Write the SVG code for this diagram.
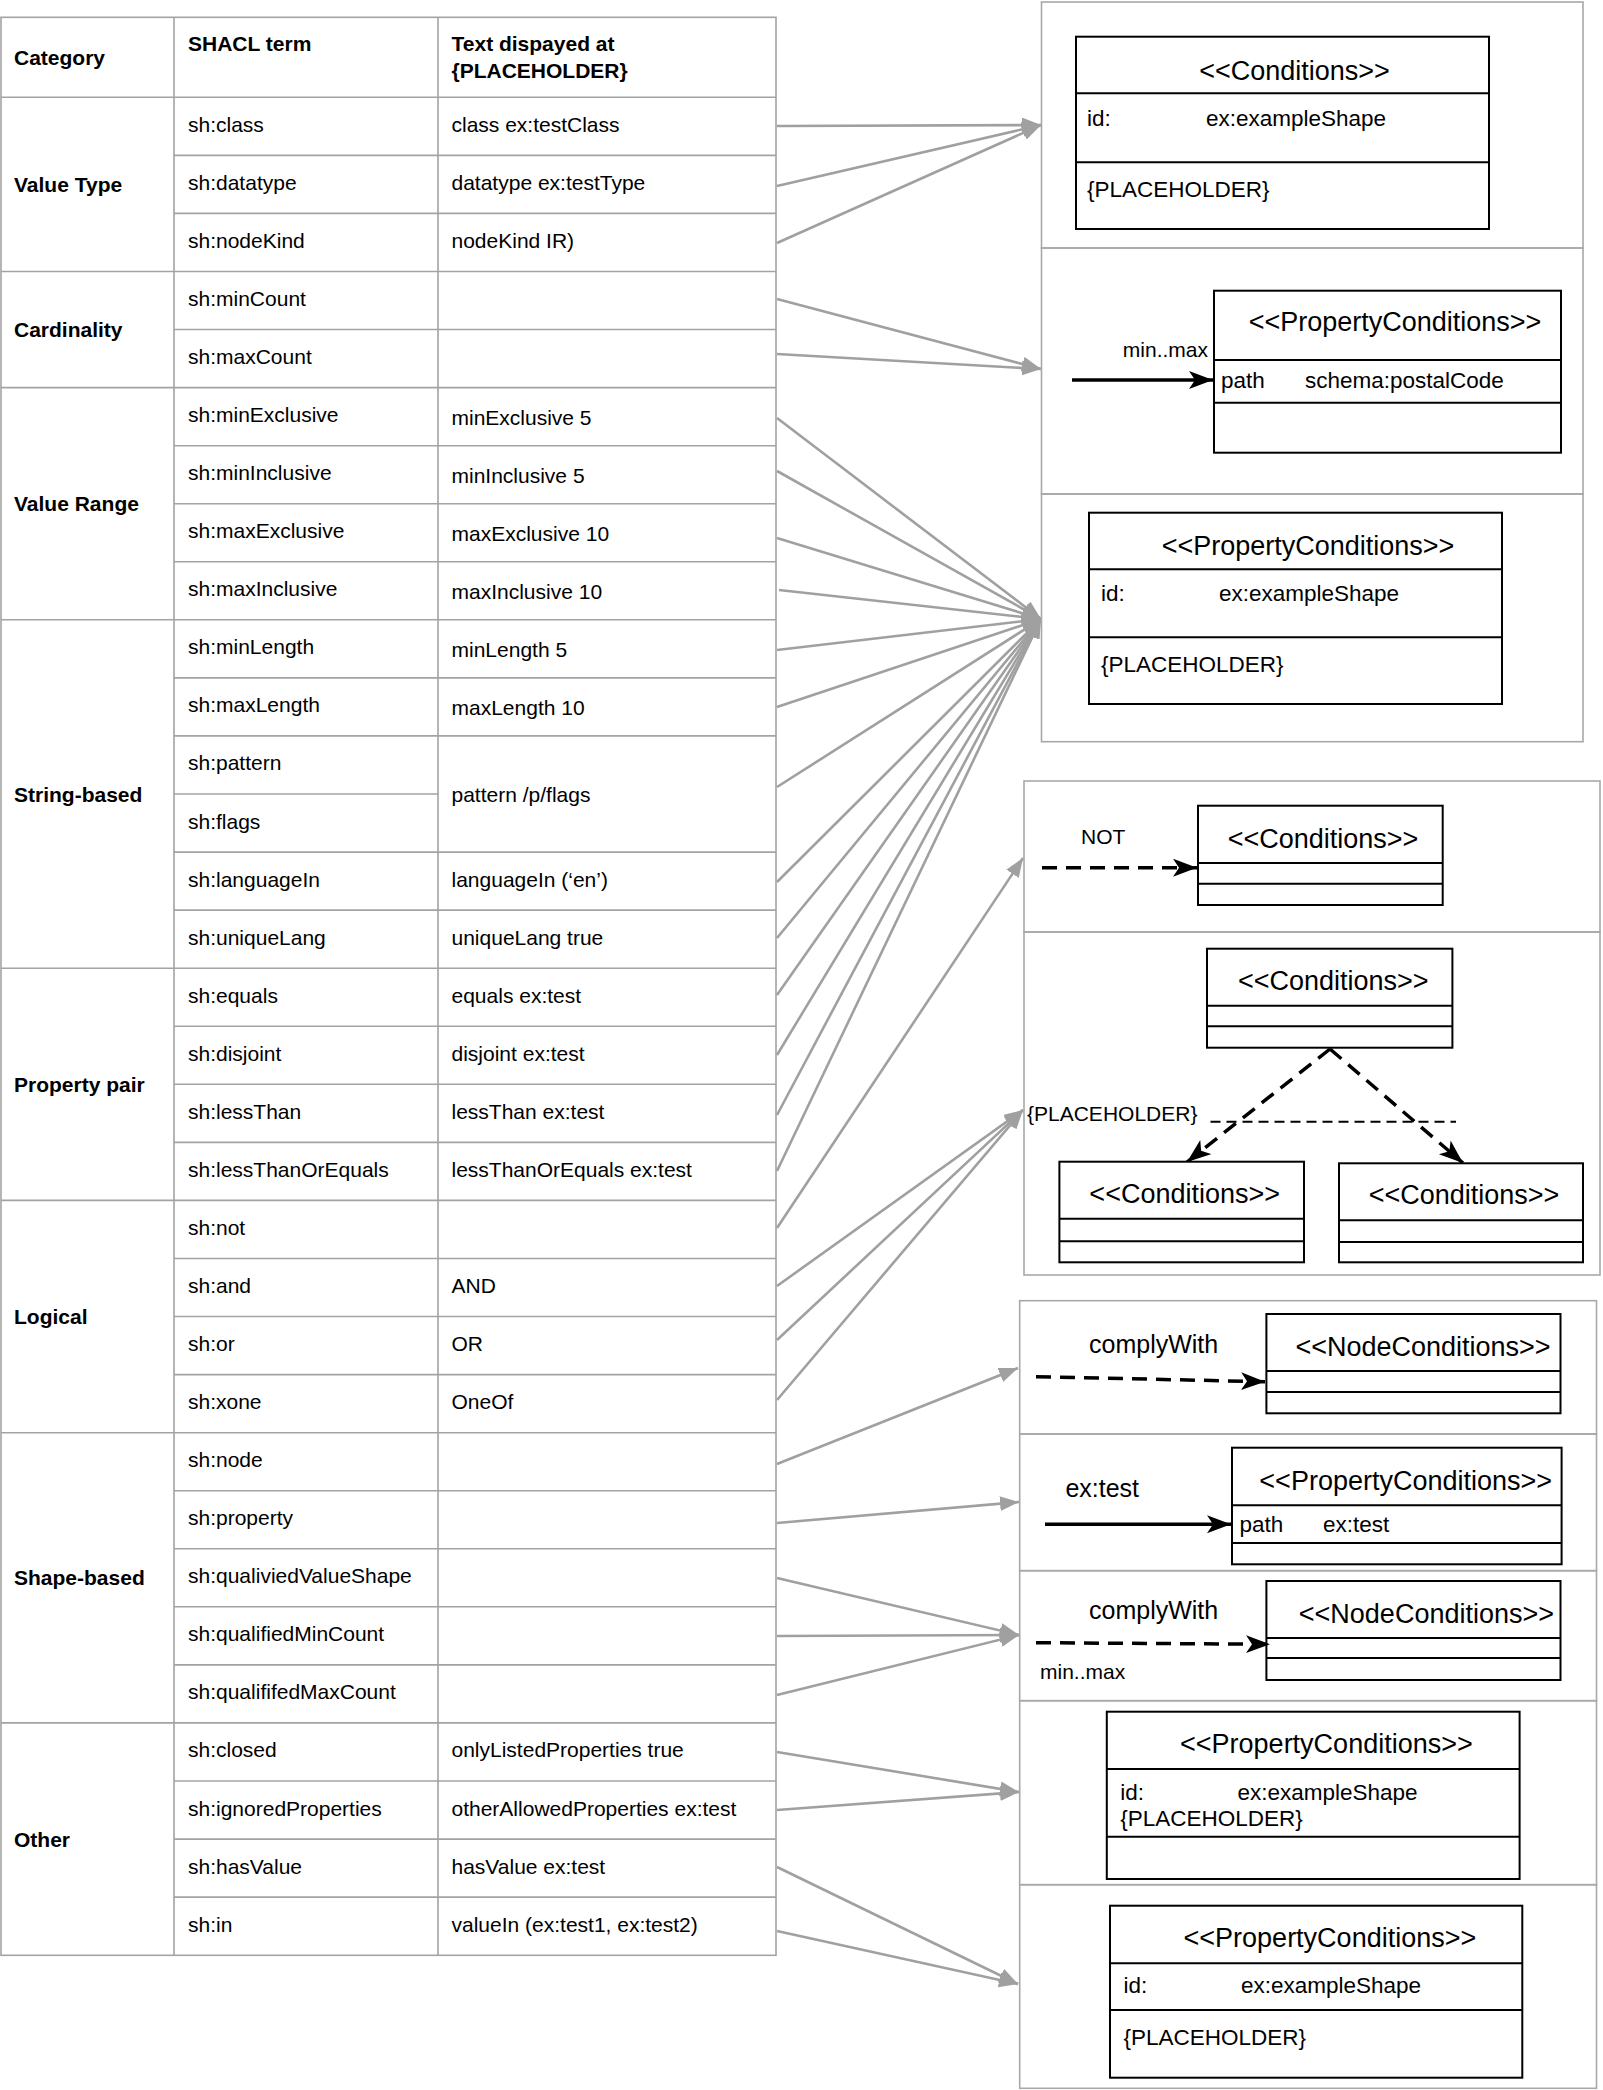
<svg xmlns="http://www.w3.org/2000/svg" width="1603" height="2090" viewBox="0 0 1603 2090">
<style>
text{font-family:"Liberation Sans",Arial,sans-serif;fill:#000}
.t{font-size:21px}
.b{font-size:21px;font-weight:bold}
.grid{stroke:#a3a3a3;stroke-width:1.6;fill:none}
.outer{stroke:#a8a8a8;stroke-width:1.6;fill:none}
.uml{stroke:#000;stroke-width:2;fill:#fff}
.ttl{font-size:27px;text-anchor:middle}
.att{font-size:22.5px}
.lbl{font-size:21px}
.big{font-size:25px}
.conn line{stroke:#a0a0a0;stroke-width:2.6;marker-end:url(#ga)}
.blk{stroke:#000;stroke-width:3.5;fill:none}
.dash{stroke-dasharray:15 9}
</style>
<defs>
<marker id="ga" markerUnits="userSpaceOnUse" markerWidth="20" markerHeight="16" refX="19" refY="7.5" orient="auto">
<path d="M0,0 L19,7.5 L0,15 z" fill="#a0a0a0"/>
</marker>
<marker id="ba" markerUnits="userSpaceOnUse" markerWidth="26" markerHeight="20" refX="24" refY="9" orient="auto">
<path d="M0,0 L24,9 L0,18 L6,9 z" fill="#000"/>
</marker>
</defs>

<g id="table">
<rect class="grid" x="1" y="17.3" width="775" height="1938"/>
<line class="grid" x1="174" y1="17.3" x2="174" y2="1955.3"/>
<line class="grid" x1="438" y1="17.3" x2="438" y2="1955.3"/>
<line class="grid" x1="1" y1="97.3" x2="776" y2="97.3"/>
<!-- category boundaries -->
<line class="grid" x1="1" y1="271.5" x2="776" y2="271.5"/>
<line class="grid" x1="1" y1="387.6" x2="776" y2="387.6"/>
<line class="grid" x1="1" y1="619.8" x2="776" y2="619.8"/>
<line class="grid" x1="1" y1="968.2" x2="776" y2="968.2"/>
<line class="grid" x1="1" y1="1200.4" x2="776" y2="1200.4"/>
<line class="grid" x1="1" y1="1432.7" x2="776" y2="1432.7"/>
<line class="grid" x1="1" y1="1722.9" x2="776" y2="1722.9"/>
<!-- row boundaries -->
<line class="grid" x1="174" y1="155.4" x2="776" y2="155.4"/>
<line class="grid" x1="174" y1="213.4" x2="776" y2="213.4"/>
<line class="grid" x1="174" y1="329.5" x2="776" y2="329.5"/>
<line class="grid" x1="174" y1="445.7" x2="776" y2="445.7"/>
<line class="grid" x1="174" y1="503.7" x2="776" y2="503.7"/>
<line class="grid" x1="174" y1="561.8" x2="776" y2="561.8"/>
<line class="grid" x1="174" y1="677.9" x2="776" y2="677.9"/>
<line class="grid" x1="174" y1="735.9" x2="776" y2="735.9"/>
<line class="grid" x1="174" y1="794.0" x2="438" y2="794.0"/>
<line class="grid" x1="174" y1="852.1" x2="776" y2="852.1"/>
<line class="grid" x1="174" y1="910.1" x2="776" y2="910.1"/>
<line class="grid" x1="174" y1="1026.3" x2="776" y2="1026.3"/>
<line class="grid" x1="174" y1="1084.3" x2="776" y2="1084.3"/>
<line class="grid" x1="174" y1="1142.4" x2="776" y2="1142.4"/>
<line class="grid" x1="174" y1="1258.5" x2="776" y2="1258.5"/>
<line class="grid" x1="174" y1="1316.5" x2="776" y2="1316.5"/>
<line class="grid" x1="174" y1="1374.6" x2="776" y2="1374.6"/>
<line class="grid" x1="174" y1="1490.7" x2="776" y2="1490.7"/>
<line class="grid" x1="174" y1="1548.8" x2="776" y2="1548.8"/>
<line class="grid" x1="174" y1="1606.8" x2="776" y2="1606.8"/>
<line class="grid" x1="174" y1="1664.9" x2="776" y2="1664.9"/>
<line class="grid" x1="174" y1="1781.0" x2="776" y2="1781.0"/>
<line class="grid" x1="174" y1="1839.1" x2="776" y2="1839.1"/>
<line class="grid" x1="174" y1="1897.1" x2="776" y2="1897.1"/>

<text class="b" x="14" y="65">Category</text>
<text class="b" x="188" y="51">SHACL term</text>
<text class="b" x="451.5" y="51">Text dispayed at</text>
<text class="b" x="451.5" y="78">{PLACEHOLDER}</text>

<text class="b" x="14" y="192">Value Type</text>
<text class="b" x="14" y="337">Cardinality</text>
<text class="b" x="14" y="511">Value Range</text>
<text class="b" x="14" y="801.5">String-based</text>
<text class="b" x="14" y="1092">Property pair</text>
<text class="b" x="14" y="1324">Logical</text>
<text class="b" x="14" y="1585">Shape-based</text>
<text class="b" x="14" y="1846.5">Other</text>

<g class="t">
<text x="188" y="131.8">sh:class</text>
<text x="188" y="189.9">sh:datatype</text>
<text x="188" y="247.9">sh:nodeKind</text>
<text x="188" y="306">sh:minCount</text>
<text x="188" y="364">sh:maxCount</text>
<text x="188" y="422.1">sh:minExclusive</text>
<text x="188" y="480.2">sh:minInclusive</text>
<text x="188" y="538.2">sh:maxExclusive</text>
<text x="188" y="596.3">sh:maxInclusive</text>
<text x="188" y="654.3">sh:minLength</text>
<text x="188" y="712.4">sh:maxLength</text>
<text x="188" y="770.4">sh:pattern</text>
<text x="188" y="828.5">sh:flags</text>
<text x="188" y="886.6">sh:languageIn</text>
<text x="188" y="944.6">sh:uniqueLang</text>
<text x="188" y="1002.7">sh:equals</text>
<text x="188" y="1060.8">sh:disjoint</text>
<text x="188" y="1118.8">sh:lessThan</text>
<text x="188" y="1176.9">sh:lessThanOrEquals</text>
<text x="188" y="1234.9">sh:not</text>
<text x="188" y="1293">sh:and</text>
<text x="188" y="1351">sh:or</text>
<text x="188" y="1409.1">sh:xone</text>
<text x="188" y="1467.2">sh:node</text>
<text x="188" y="1525.2">sh:property</text>
<text x="188" y="1583.3">sh:qualiviedValueShape</text>
<text x="188" y="1641.3">sh:qualifiedMinCount</text>
<text x="188" y="1699.4">sh:qualififedMaxCount</text>
<text x="188" y="1757.4">sh:closed</text>
<text x="188" y="1815.5">sh:ignoredProperties</text>
<text x="188" y="1873.6">sh:hasValue</text>
<text x="188" y="1931.6">sh:in</text>

<text x="451.5" y="131.8">class ex:testClass</text>
<text x="451.5" y="189.9">datatype ex:testType</text>
<text x="451.5" y="247.9">nodeKind IR)</text>
<text x="451.5" y="425">minExclusive 5</text>
<text x="451.5" y="483">minInclusive 5</text>
<text x="451.5" y="541">maxExclusive 10</text>
<text x="451.5" y="599">maxInclusive 10</text>
<text x="451.5" y="657">minLength 5</text>
<text x="451.5" y="715">maxLength 10</text>
<text x="451.5" y="801.5">pattern /p/flags</text>
<text x="451.5" y="886.6">languageIn (‘en’)</text>
<text x="451.5" y="944.6">uniqueLang true</text>
<text x="451.5" y="1002.7">equals ex:test</text>
<text x="451.5" y="1060.8">disjoint ex:test</text>
<text x="451.5" y="1118.8">lessThan ex:test</text>
<text x="451.5" y="1176.9">lessThanOrEquals ex:test</text>
<text x="451.5" y="1293">AND</text>
<text x="451.5" y="1351">OR</text>
<text x="451.5" y="1409.1">OneOf</text>
<text x="451.5" y="1757.4">onlyListedProperties true</text>
<text x="451.5" y="1815.5">otherAllowedProperties ex:test</text>
<text x="451.5" y="1873.6">hasValue ex:test</text>
<text x="451.5" y="1931.6">valueIn (ex:test1, ex:test2)</text>
</g>
</g>

<g id="connectors" class="conn">
<line x1="777" y1="126" x2="1041" y2="125"/>
<line x1="777" y1="186" x2="1041" y2="125"/>
<line x1="777" y1="243" x2="1041" y2="125"/>
<line x1="777" y1="299" x2="1041" y2="369"/>
<line x1="777" y1="354" x2="1041" y2="369"/>
<line x1="777" y1="418" x2="1041" y2="619"/>
<line x1="777" y1="471" x2="1041" y2="619"/>
<line x1="777" y1="538" x2="1041" y2="619"/>
<line x1="779" y1="590" x2="1041" y2="619"/>
<line x1="777" y1="650" x2="1041" y2="619"/>
<line x1="777" y1="707" x2="1041" y2="619"/>
<line x1="777" y1="787" x2="1041" y2="619"/>
<line x1="777" y1="882" x2="1041" y2="619"/>
<line x1="777" y1="938" x2="1041" y2="619"/>
<line x1="777" y1="995" x2="1041" y2="619"/>
<line x1="777" y1="1055" x2="1041" y2="619"/>
<line x1="777" y1="1115" x2="1041" y2="619"/>
<line x1="777" y1="1171" x2="1041" y2="619"/>
<line x1="777" y1="1228" x2="1023" y2="858"/>
<line x1="777" y1="1286" x2="1023" y2="1110"/>
<line x1="777" y1="1340" x2="1023" y2="1110"/>
<line x1="777" y1="1400" x2="1023" y2="1110"/>
<line x1="777" y1="1464" x2="1018" y2="1368"/>
<line x1="777" y1="1523" x2="1019" y2="1502"/>
<line x1="777" y1="1578" x2="1019" y2="1635"/>
<line x1="777" y1="1636" x2="1019" y2="1635"/>
<line x1="777" y1="1695" x2="1019" y2="1635"/>
<line x1="777" y1="1752" x2="1019" y2="1792"/>
<line x1="777" y1="1810" x2="1019" y2="1792"/>
<line x1="777" y1="1867" x2="1018" y2="1984"/>
<line x1="777" y1="1931" x2="1018" y2="1984"/>
</g>

<g id="box1">
<rect class="outer" x="1041.5" y="2" width="541.5" height="246"/>
<rect class="uml" x="1076" y="36.7" width="413" height="192.3"/>
<line class="uml" x1="1076" y1="93.3" x2="1489" y2="93.3"/>
<line class="uml" x1="1076" y1="162.3" x2="1489" y2="162.3"/>
<text class="ttl" x="1294.5" y="79.5">&lt;&lt;Conditions&gt;&gt;</text>
<text class="att" x="1087" y="126">id:</text>
<text class="att" x="1206" y="126">ex:exampleShape</text>
<text class="att" x="1087" y="197">{PLACEHOLDER}</text>
</g>

<g id="box2">
<rect class="outer" x="1041.5" y="248" width="541.5" height="246"/>
<rect class="uml" x="1214" y="290.7" width="347" height="162"/>
<line class="uml" x1="1214" y1="360" x2="1561" y2="360"/>
<line class="uml" x1="1214" y1="402.7" x2="1561" y2="402.7"/>
<text class="ttl" x="1395" y="331">&lt;&lt;PropertyConditions&gt;&gt;</text>
<text class="lbl" x="1208" y="357" text-anchor="end">min..max</text>
<line class="blk" x1="1072" y1="380" x2="1213" y2="380" marker-end="url(#ba)"/>
<text class="att" x="1221" y="388">path</text>
<text class="att" x="1305" y="388">schema:postalCode</text>
</g>

<g id="box3">
<rect class="outer" x="1041.5" y="494" width="541.5" height="247.7"/>
<rect class="uml" x="1089" y="512.7" width="413" height="191.3"/>
<line class="uml" x1="1089" y1="569.3" x2="1502" y2="569.3"/>
<line class="uml" x1="1089" y1="637.3" x2="1502" y2="637.3"/>
<text class="ttl" x="1308" y="554.5">&lt;&lt;PropertyConditions&gt;&gt;</text>
<text class="att" x="1101" y="601">id:</text>
<text class="att" x="1219" y="601">ex:exampleShape</text>
<text class="att" x="1101" y="672">{PLACEHOLDER}</text>
</g>

<g id="box4">
<rect class="outer" x="1024" y="781" width="576" height="151"/>
<rect class="uml" x="1198" y="805.7" width="244.7" height="99.3"/>
<line class="uml" x1="1198" y1="863" x2="1442.7" y2="863"/>
<line class="uml" x1="1198" y1="883.7" x2="1442.7" y2="883.7"/>
<text class="ttl" x="1323" y="848">&lt;&lt;Conditions&gt;&gt;</text>
<text class="lbl" x="1081" y="843.5">NOT</text>
<line class="blk dash" x1="1042" y1="867.7" x2="1197" y2="867.7" marker-end="url(#ba)"/>
</g>

<g id="box5">
<rect class="outer" x="1024" y="932" width="576" height="343"/>
<rect class="uml" x="1207" y="948.7" width="245.4" height="99"/>
<line class="uml" x1="1207" y1="1005.7" x2="1452.4" y2="1005.7"/>
<line class="uml" x1="1207" y1="1026.3" x2="1452.4" y2="1026.3"/>
<text class="ttl" x="1333.3" y="990">&lt;&lt;Conditions&gt;&gt;</text>
<line class="blk dash" x1="1330" y1="1049" x2="1187" y2="1162" marker-end="url(#ba)"/>
<line class="blk dash" x1="1330" y1="1049" x2="1463" y2="1163" marker-end="url(#ba)"/>
<line x1="1210.5" y1="1121.7" x2="1456" y2="1121.7" stroke="#000" stroke-width="2" stroke-dasharray="10 6"/>
<text class="lbl" x="1027" y="1121">{PLACEHOLDER}</text>
<rect class="uml" x="1059.4" y="1161.7" width="244.6" height="100.6"/>
<line class="uml" x1="1059.4" y1="1218.7" x2="1304" y2="1218.7"/>
<line class="uml" x1="1059.4" y1="1241.3" x2="1304" y2="1241.3"/>
<text class="ttl" x="1184.7" y="1203">&lt;&lt;Conditions&gt;&gt;</text>
<rect class="uml" x="1339" y="1163.3" width="244" height="99"/>
<line class="uml" x1="1339" y1="1220.3" x2="1583" y2="1220.3"/>
<line class="uml" x1="1339" y1="1242" x2="1583" y2="1242"/>
<text class="ttl" x="1464" y="1204">&lt;&lt;Conditions&gt;&gt;</text>
</g>

<g id="box6">
<rect class="outer" x="1019.7" y="1300.7" width="576.8" height="133.3"/>
<rect class="uml" x="1266.4" y="1314" width="294.1" height="99.3"/>
<line class="uml" x1="1266.4" y1="1371" x2="1560.5" y2="1371"/>
<line class="uml" x1="1266.4" y1="1392" x2="1560.5" y2="1392"/>
<text class="ttl" x="1423" y="1356">&lt;&lt;NodeConditions&gt;&gt;</text>
<text class="big" x="1089" y="1353">complyWith</text>
<line class="blk dash" x1="1036" y1="1376.7" x2="1265" y2="1381.7" marker-end="url(#ba)"/>
</g>

<g id="box7">
<rect class="outer" x="1019.7" y="1434" width="576.8" height="136.7"/>
<rect class="uml" x="1232" y="1447.7" width="329.6" height="116.6"/>
<line class="uml" x1="1232" y1="1505.3" x2="1561.6" y2="1505.3"/>
<line class="uml" x1="1232" y1="1543" x2="1561.6" y2="1543"/>
<text class="ttl" x="1405.7" y="1489.5">&lt;&lt;PropertyConditions&gt;&gt;</text>
<text class="big" x="1065.4" y="1497">ex:test</text>
<line class="blk" x1="1045" y1="1524.3" x2="1231" y2="1524.3" marker-end="url(#ba)"/>
<text class="att" x="1239.5" y="1532">path</text>
<text class="att" x="1323" y="1532">ex:test</text>
</g>

<g id="box8">
<rect class="outer" x="1019.7" y="1570.7" width="576.8" height="130"/>
<rect class="uml" x="1266.4" y="1581" width="294.1" height="99"/>
<line class="uml" x1="1266.4" y1="1638" x2="1560.5" y2="1638"/>
<line class="uml" x1="1266.4" y1="1658" x2="1560.5" y2="1658"/>
<text class="ttl" x="1426.4" y="1623">&lt;&lt;NodeConditions&gt;&gt;</text>
<text class="big" x="1089" y="1619">complyWith</text>
<line class="blk dash" x1="1036" y1="1642.7" x2="1270" y2="1644.3" marker-end="url(#ba)"/>
<text class="lbl" x="1040" y="1679">min..max</text>
</g>

<g id="box9">
<rect class="outer" x="1019.7" y="1700.7" width="576.8" height="184"/>
<rect class="uml" x="1106.8" y="1711.7" width="412.8" height="167.3"/>
<line class="uml" x1="1106.8" y1="1769" x2="1519.6" y2="1769"/>
<line class="uml" x1="1106.8" y1="1836.7" x2="1519.6" y2="1836.7"/>
<text class="ttl" x="1326.4" y="1753">&lt;&lt;PropertyConditions&gt;&gt;</text>
<text class="att" x="1120.2" y="1800">id:</text>
<text class="att" x="1237.4" y="1800">ex:exampleShape</text>
<text class="att" x="1120.2" y="1826">{PLACEHOLDER}</text>
</g>

<g id="box10">
<rect class="outer" x="1019.7" y="1884.7" width="576.8" height="203.6"/>
<rect class="uml" x="1110" y="1905.7" width="412.3" height="172"/>
<line class="uml" x1="1110" y1="1963.3" x2="1522.3" y2="1963.3"/>
<line class="uml" x1="1110" y1="2010" x2="1522.3" y2="2010"/>
<text class="ttl" x="1329.9" y="1947">&lt;&lt;PropertyConditions&gt;&gt;</text>
<text class="att" x="1123.4" y="1993">id:</text>
<text class="att" x="1241" y="1993">ex:exampleShape</text>
<text class="att" x="1123.4" y="2045">{PLACEHOLDER}</text>
</g>
</svg>
